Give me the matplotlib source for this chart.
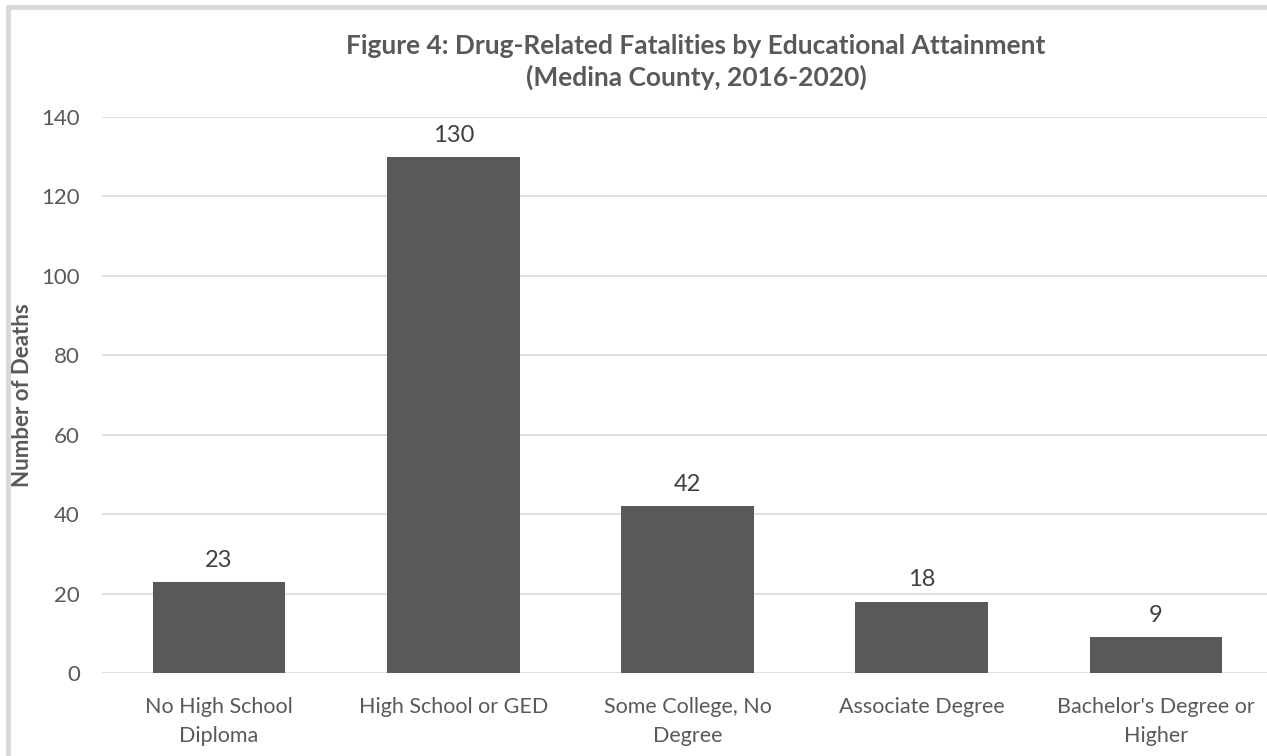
import numpy as np
import matplotlib.pyplot as plt
from matplotlib.patches import Rectangle

# education levels and death counts
categories = ["No High School\nDiploma", "High School or GED", "Some College, No\nDegree",
              "Associate Degree", "Bachelor's Degree or\nHigher"]
deaths = [23, 130, 42, 18, 9]
yticks = [0, 20, 40, 60, 80, 100, 120, 140]

plt.rcParams['font.family'] = ['Lato', 'DejaVu Sans']

W, H = 1267, 756
fig = plt.figure(figsize=(W / 100, H / 100), dpi=100)

# chart border (only top/left edge visible)
fig.patches.append(Rectangle((8 / W, -0.1), 1.2, 1 - 7 / H + 0.1, transform=fig.transFigure,
                             fill=False, edgecolor='#d9d9d9', linewidth=3.5))

ax = fig.add_axes([102 / W, 1 - 673 / H, 1171 / W, 556 / H])
x = np.arange(len(categories))
bars = ax.bar(x, deaths, width=0.567, color='#595959', zorder=3)

for xi, v in zip(x, deaths):
    ax.text(xi, v + 3.8, str(v), ha='center', va='baseline', fontsize=17, color='#404040')

ax.set_xlim(-0.5, len(categories) - 0.5)
ax.set_ylim(0, 140)
ax.set_yticks(yticks)
ax.set_xticks(x)
ax.set_xticklabels(categories, fontsize=15.5, color='#595959', linespacing=1.6)
ax.tick_params(axis='y', labelsize=16, colors='#595959', length=0, pad=16)
ax.tick_params(axis='x', length=0, pad=17)
ax.grid(axis='y', color='#d9d9d9', linewidth=1.2, zorder=0)
for s in ax.spines.values():
    s.set_visible(False)

ax.set_ylabel("Number of Deaths", fontsize=16, fontweight='bold', color='#595959')
ax.yaxis.set_label_coords((33 - 102) / 1171, 0.5)

title_kw = dict(ha='center', va='baseline', fontsize=19, fontweight='bold', color='#595959')
fig.text(696 / W, 1 - 54 / H, "Figure 4: Drug-Related Fatalities by Educational Attainment", **title_kw)
fig.text(696 / W, 1 - 86 / H, "(Medina County, 2016-2020)", **title_kw)

fig.savefig("out.png", dpi=100)
